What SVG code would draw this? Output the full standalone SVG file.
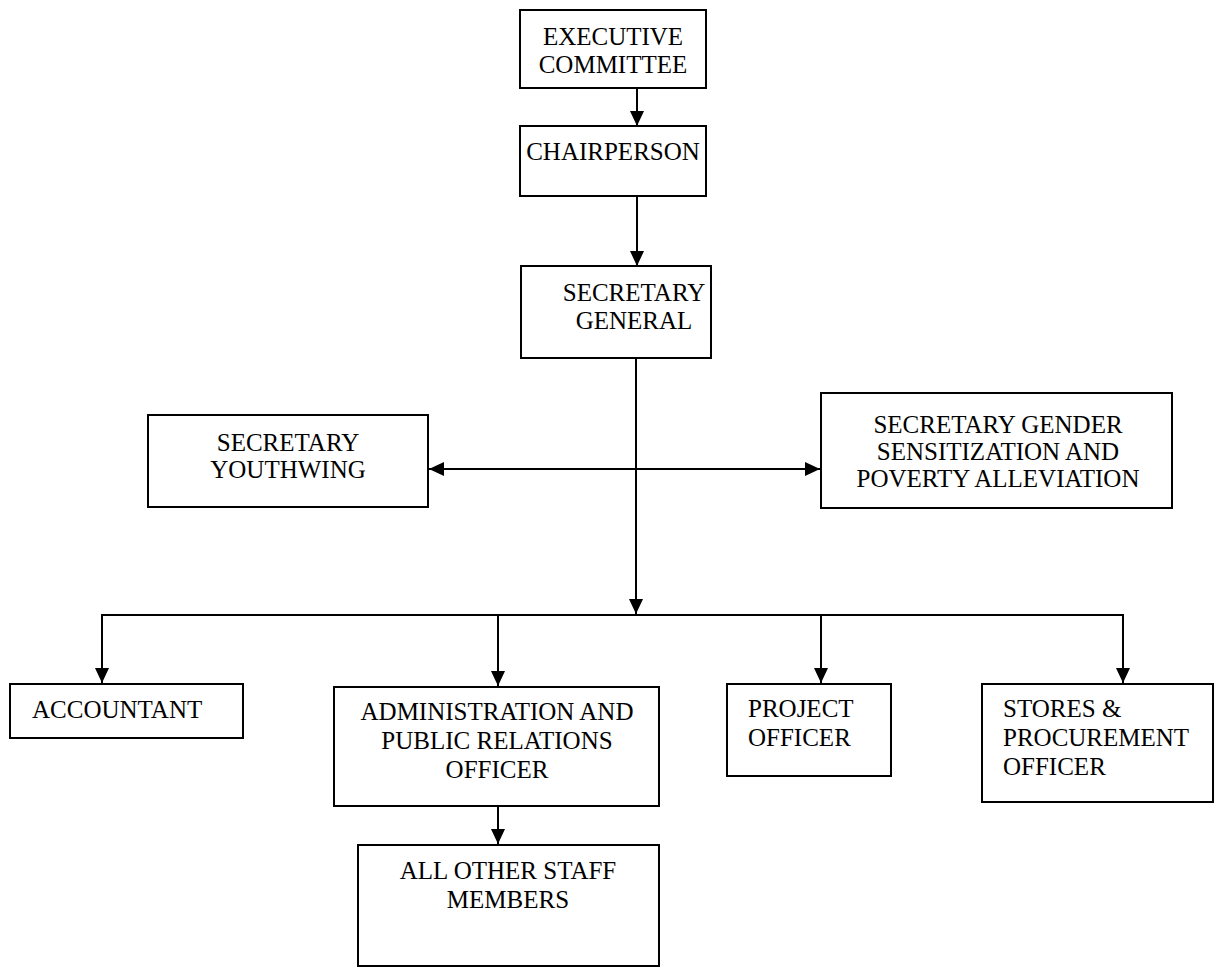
<svg xmlns="http://www.w3.org/2000/svg" width="1214" height="968" viewBox="0 0 1214 968">
<style>
.box{fill:#fff;stroke:#000;stroke-width:2}
.t{font-family:"Liberation Serif","Times New Roman",serif;font-size:25px;fill:#000}
.c{text-anchor:middle}
.ln{fill:none;stroke:#000;stroke-width:2}
</style>
<defs>
<marker id="ah" markerUnits="userSpaceOnUse" markerWidth="16" markerHeight="16" viewBox="0 0 16 16" refX="15" refY="8" orient="auto-start-reverse">
<path d="M0,1 L15,8 L0,15 z" fill="#000"/>
</marker>
</defs>
<rect width="1214" height="968" fill="#fff"/>
<g id="connectors">
<line class="ln" x1="637" y1="88" x2="637" y2="126" marker-end="url(#ah)"/>
<line class="ln" x1="637" y1="196" x2="637" y2="266" marker-end="url(#ah)"/>
<line class="ln" x1="636" y1="358" x2="636" y2="614" marker-end="url(#ah)"/>
<line class="ln" x1="429" y1="469" x2="820" y2="469" marker-start="url(#ah)" marker-end="url(#ah)"/>
<polyline class="ln" points="102,683 102,615 1123,615 1123,683"/>
<line class="ln" x1="102" y1="620" x2="102" y2="683" marker-end="url(#ah)"/>
<line class="ln" x1="498" y1="615" x2="498" y2="686" marker-end="url(#ah)"/>
<line class="ln" x1="821" y1="615" x2="821" y2="683" marker-end="url(#ah)"/>
<line class="ln" x1="1123" y1="620" x2="1123" y2="683" marker-end="url(#ah)"/>
<line class="ln" x1="498" y1="806" x2="498" y2="844" marker-end="url(#ah)"/>
</g>
<g id="executive">
<rect class="box" x="520" y="10" width="186" height="78"/>
<text class="t c" x="613" y="45">EXECUTIVE</text>
<text class="t c" x="613" y="73">COMMITTEE</text>
</g>
<g id="chairperson">
<rect class="box" x="520" y="126" width="186" height="70"/>
<text class="t c" x="613" y="160">CHAIRPERSON</text>
</g>
<g id="secgen">
<rect class="box" x="521" y="266" width="190" height="92"/>
<text class="t c" x="634" y="301">SECRETARY</text>
<text class="t c" x="634" y="329">GENERAL</text>
</g>
<g id="youthwing">
<rect class="box" x="148" y="415" width="280" height="92"/>
<text class="t c" x="288" y="451">SECRETARY</text>
<text class="t c" x="288" y="478">YOUTHWING</text>
</g>
<g id="gender">
<rect class="box" x="821" y="393" width="351" height="115"/>
<text class="t c" x="998" y="433">SECRETARY GENDER</text>
<text class="t c" x="998" y="460">SENSITIZATION AND</text>
<text class="t c" x="998" y="487">POVERTY ALLEVIATION</text>
</g>
<g id="accountant">
<rect class="box" x="10" y="684" width="233" height="54"/>
<text class="t" x="32" y="718">ACCOUNTANT</text>
</g>
<g id="admin">
<rect class="box" x="334" y="687" width="325" height="119"/>
<text class="t c" x="497" y="720">ADMINISTRATION AND</text>
<text class="t c" x="497" y="749">PUBLIC RELATIONS</text>
<text class="t c" x="497" y="778">OFFICER</text>
</g>
<g id="staff">
<rect class="box" x="358" y="845" width="301" height="121"/>
<text class="t c" x="508" y="879">ALL OTHER STAFF</text>
<text class="t c" x="508" y="908">MEMBERS</text>
</g>
<g id="project">
<rect class="box" x="727" y="684" width="164" height="92"/>
<text class="t" x="748" y="717">PROJECT</text>
<text class="t" x="748" y="746">OFFICER</text>
</g>
<g id="stores">
<rect class="box" x="982" y="684" width="231" height="118"/>
<text class="t" x="1003" y="717">STORES &amp;</text>
<text class="t" x="1003" y="746">PROCUREMENT</text>
<text class="t" x="1003" y="775">OFFICER</text>
</g>
</svg>
